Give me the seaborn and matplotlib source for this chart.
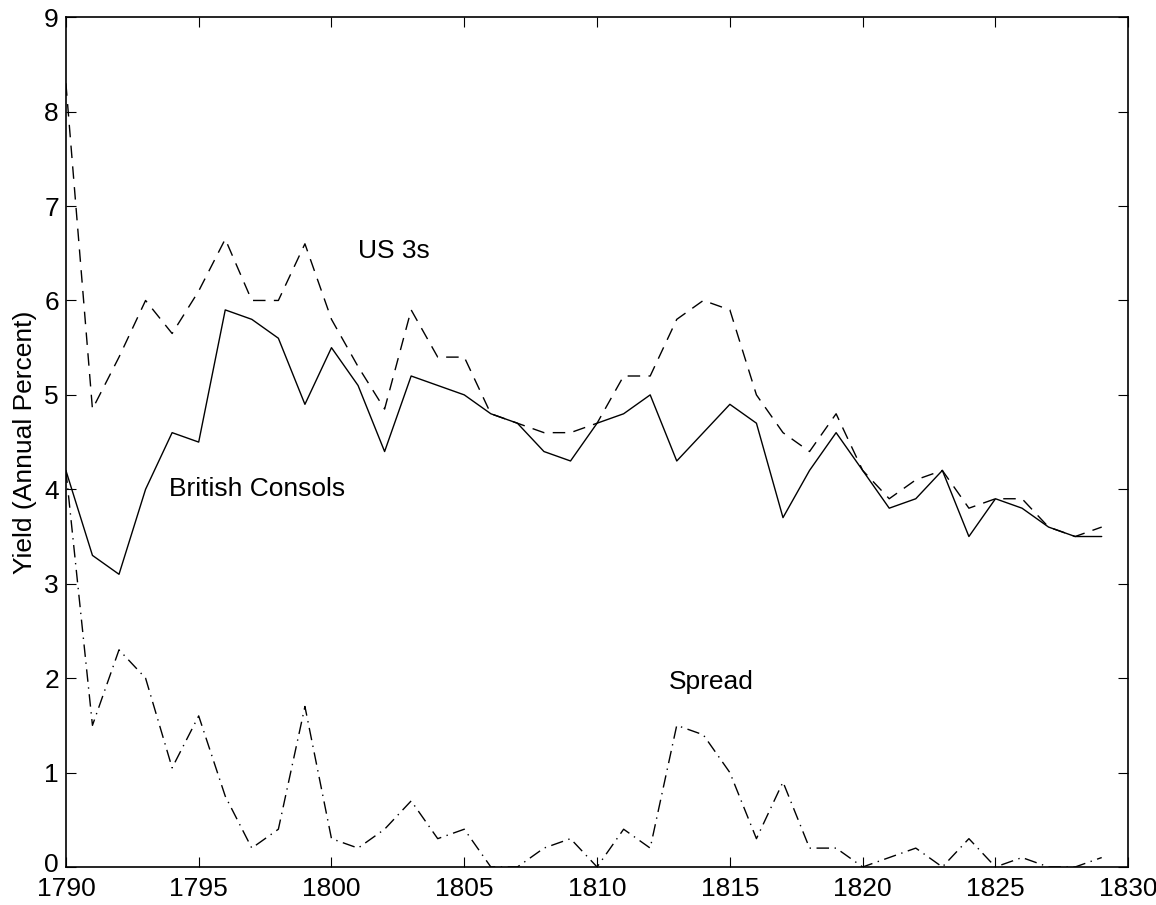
import numpy as np
import pandas as pd
import seaborn as sns
import matplotlib
matplotlib.use('Agg')
import matplotlib.pyplot as plt
import matplotlib.transforms as mtransforms

# Data
years = list(range(1790, 1830))
consols = [4.2, 3.3, 3.1, 4.0, 4.6, 4.5, 5.9, 5.8, 5.6, 4.9,
           5.5, 5.1, 4.4, 5.2, 5.1, 5.0, 4.8, 4.7, 4.4, 4.3,
           4.7, 4.8, 5.0, 4.3, 4.6, 4.9, 4.7, 3.7, 4.2, 4.6,
           4.2, 3.8, 3.9, 4.2, 3.5, 3.9, 3.8, 3.6, 3.5, 3.5]
us3s = [8.3, 4.85, 5.4, 6.0, 5.65, 6.1, 6.65, 6.0, 6.0, 6.6,
        5.8, 5.3, 4.85, 5.9, 5.4, 5.4, 4.8, 4.7, 4.6, 4.6,
        4.7, 5.2, 5.2, 5.8, 6.0, 5.9, 5.0, 4.6, 4.4, 4.8,
        4.2, 3.9, 4.1, 4.2, 3.8, 3.9, 3.9, 3.6, 3.5, 3.6]
spread = [4.2, 1.5, 2.3, 2.0, 1.05, 1.6, 0.75, 0.2, 0.4, 1.7,
          0.3, 0.2, 0.4, 0.7, 0.3, 0.4, 0.0, 0.0, 0.2, 0.3,
          0.0, 0.4, 0.2, 1.5, 1.4, 1.0, 0.3, 0.9, 0.2, 0.2,
          0.0, 0.1, 0.2, 0.0, 0.3, 0.0, 0.1, 0.0, 0.0, 0.1]

df = pd.DataFrame({'year': years, 'consols': consols, 'us3s': us3s, 'spread': spread})

sns.set_style('ticks')
plt.rcParams['font.family'] = ['Liberation Sans', 'DejaVu Sans']
plt.rcParams['text.color'] = 'black'
plt.rcParams['axes.labelcolor'] = 'black'
plt.rcParams['xtick.color'] = 'black'
plt.rcParams['ytick.color'] = 'black'
plt.rcParams['axes.edgecolor'] = 'black'

fs = 19

fig = plt.figure(figsize=(11.56, 9.05), dpi=100)
ax = fig.add_axes([0.057, 0.042, 0.919, 0.939])

sns.lineplot(data=df, x='year', y='consols', ax=ax, color='black', linewidth=1.0, linestyle='-')
sns.lineplot(data=df, x='year', y='us3s', ax=ax, color='black', linewidth=1.0,
             linestyle=(0, (9, 6)))
sns.lineplot(data=df, x='year', y='spread', ax=ax, color='black', linewidth=1.0,
             linestyle=(0, (9, 4, 1, 4)))

ax.set_xlim(1790, 1830)
ax.set_ylim(0, 9)
ax.set_xticks(range(1790, 1831, 5))
ax.set_yticks(range(0, 10))
ax.tick_params(direction='in', top=True, right=True, labelsize=fs, length=7, width=0.8)
ax.tick_params(axis='y', pad=5)
ax.tick_params(axis='x', pad=7)
for s in ax.spines.values():
    s.set_linewidth(1.2)
ax.set_xlabel('')
ax.set_ylabel('Yield (Annual Percent)', fontsize=fs, labelpad=5)

# nudge the "0" label up a little so it clears "1790", as in the original
zero_lbl = ax.get_yticklabels()[0]
zero_lbl.set_transform(zero_lbl.get_transform() + mtransforms.ScaledTranslation(0, 3 / 72, fig.dpi_scale_trans))

ax.text(1801.0, 6.45, 'US 3s', fontsize=fs)
ax.text(1793.9, 3.93, 'British Consols', fontsize=fs)
ax.text(1812.7, 1.88, 'Spread', fontsize=fs)

fig.savefig('out.png', dpi=100)
